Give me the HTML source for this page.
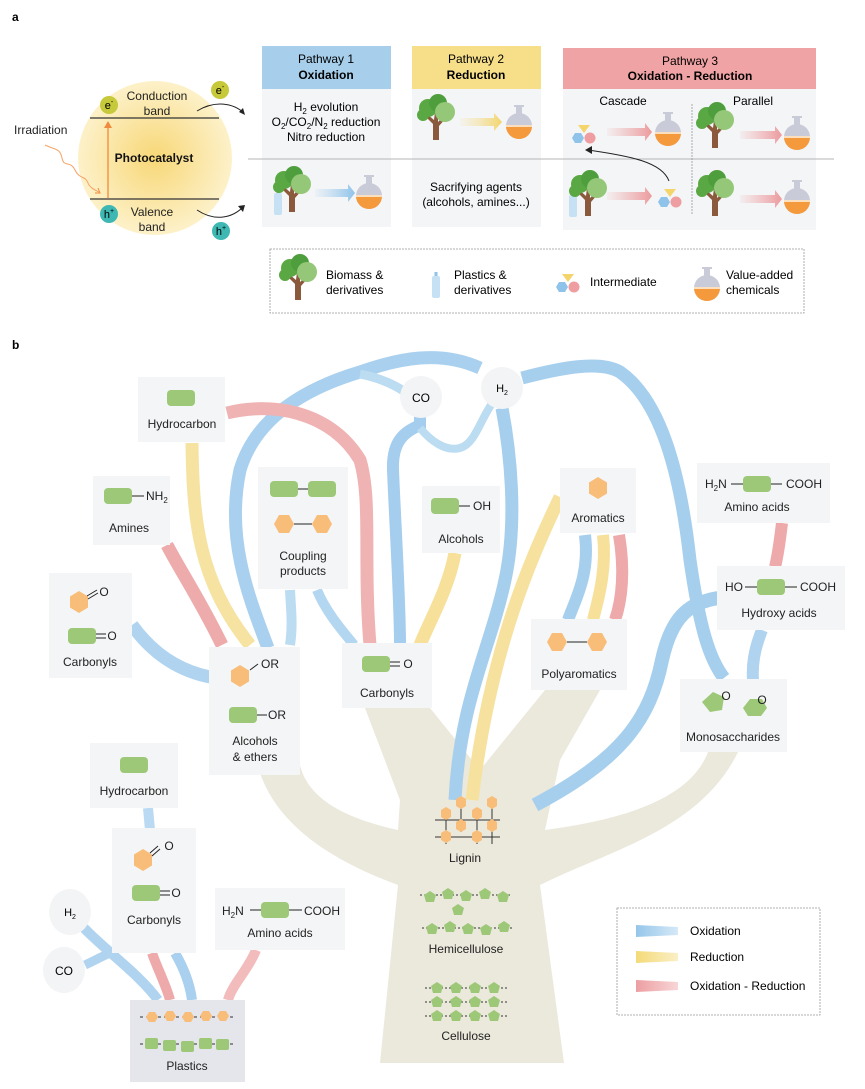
<!DOCTYPE html>
<html><head><meta charset="utf-8"><style>
html,body{margin:0;padding:0;background:#fff}
svg{display:block;font-family:"Liberation Sans",Arial,sans-serif}
</style></head><body>
<svg width="865" height="1089" viewBox="0 0 865 1089" xmlns="http://www.w3.org/2000/svg">
<defs>
<radialGradient id="sun" cx="0.5" cy="0.5" r="0.5">
<stop offset="0" stop-color="#f7d777"/><stop offset="1" stop-color="#fdf1c9"/></radialGradient>
<linearGradient id="gb" x1="0" x2="1"><stop offset="0" stop-color="#a8d0ee" stop-opacity="0.1"/><stop offset="1" stop-color="#8fc3ea"/></linearGradient>
<linearGradient id="gy" x1="0" x2="1"><stop offset="0" stop-color="#f6e09a" stop-opacity="0.1"/><stop offset="1" stop-color="#f3d56c"/></linearGradient>
<linearGradient id="gp" x1="0" x2="1"><stop offset="0" stop-color="#eea9ab" stop-opacity="0.1"/><stop offset="1" stop-color="#ec9a9d"/></linearGradient>
<linearGradient id="lb" x1="0" x2="1"><stop offset="0" stop-color="#94c6ea"/><stop offset="1" stop-color="#d6e9f7"/></linearGradient>
<linearGradient id="ly" x1="0" x2="1"><stop offset="0" stop-color="#f4da78"/><stop offset="1" stop-color="#faefc6"/></linearGradient>
<linearGradient id="lp" x1="0" x2="1"><stop offset="0" stop-color="#ec9ea1"/><stop offset="1" stop-color="#f8d6d7"/></linearGradient>
<g id="tree">
<path d="M-3,20 L-3,4 L-11,-4 L-9,-6 L-2,0 L-1,-8 L2,-8 L2,2 L8,-4 L10,-2 L3,6 L3,20 Z" fill="#8b5a3c"/>
<circle cx="-8" cy="-12" r="9" fill="#5aa844"/><circle cx="2" cy="-17" r="9" fill="#4f9e3d"/>
<circle cx="-13" cy="-5" r="6" fill="#5aa844"/><circle cx="9" cy="-8" r="10" fill="#94c878"/>
</g>
<g id="flask">
<rect x="-3" y="-20" width="6" height="9" fill="#c9cbd8"/><rect x="-5" y="-21" width="10" height="2" fill="#c9cbd8"/>
<circle cx="0" cy="0" r="13" fill="#c9cbd8"/>
<path d="M-13,0 A13,13 0 0 0 13,0 Z" fill="#f59a3c"/><rect x="-13" y="-1" width="26" height="2" fill="#fbe0c0"/>
</g>
<g id="bottle"><rect x="-4" y="-8" width="8" height="22" rx="2" fill="#c6e1f4"/><rect x="-1.5" y="-12" width="3" height="4" fill="#8fc3ea"/></g>
<g id="inter"><path d="M-6,-13 L6,-13 L0,-5 Z" fill="#f3d56c"/><polygon points="-12,0 -9,-5 -3,-5 0,0 -3,5 -9,5" fill="#8fc3ea"/><circle cx="6" cy="0" r="5.5" fill="#ee9ea1"/></g>
<polygon id="hex" points="-10,0 -5,-9 5,-9 10,0 5,9 -5,9" fill="#f8bd78"/>
<polygon id="vhex" points="0,-11 9,-5.5 9,5.5 0,11 -9,5.5 -9,-5.5" fill="#f8bd78"/>
<rect id="rr" x="-14" y="-8" width="28" height="16" rx="4" fill="#9dc878"/>
<polygon id="pent" points="0,-6 6,-2 4,5 -4,5 -6,-2" fill="#9dc878"/>
</defs>

<!-- ===== Panel a ===== -->
<text x="12" y="21" font-size="12" font-weight="bold">a</text>
<circle cx="155" cy="158" r="77" fill="url(#sun)"/>
<line x1="90" y1="118" x2="219" y2="118" stroke="#333" stroke-width="1.3"/>
<line x1="90" y1="199" x2="219" y2="199" stroke="#333" stroke-width="1.3"/>
<line x1="108" y1="198" x2="108" y2="126" stroke="#f08a3c" stroke-width="1.3"/>
<path d="M104,128 L108,121 L112,128 Z" fill="#f08a3c"/>
<path d="M45,145 C55,150 60,148 62,158 C64,168 70,160 75,170 C80,180 85,175 88,183 C90,188 95,190 99,192" fill="none" stroke="#f5a466" stroke-width="1"/>
<path d="M95,193 L100,193 L98,188" fill="none" stroke="#f08a3c" stroke-width="1"/>
<text x="14" y="134" font-size="12" fill="#222">Irradiation</text>
<text x="157" y="100" font-size="12" text-anchor="middle" fill="#222">Conduction</text>
<text x="157" y="115" font-size="12" text-anchor="middle" fill="#222">band</text>
<text x="154" y="162" font-size="12" font-weight="bold" text-anchor="middle" fill="#111">Photocatalyst</text>
<text x="152" y="216" font-size="12" text-anchor="middle" fill="#222">Valence</text>
<text x="152" y="231" font-size="12" text-anchor="middle" fill="#222">band</text>
<circle cx="109" cy="105" r="9" fill="#c5c93a"/><text x="109" y="109" font-size="11" text-anchor="middle">e<tspan font-size="7" dy="-5">-</tspan></text>
<circle cx="220" cy="90" r="9" fill="#c5c93a"/><text x="220" y="94" font-size="11" text-anchor="middle">e<tspan font-size="7" dy="-5">-</tspan></text>
<circle cx="109" cy="214" r="9" fill="#3fb8b4"/><text x="109" y="218" font-size="11" text-anchor="middle">h<tspan font-size="7" dy="-5">+</tspan></text>
<circle cx="221" cy="231" r="9" fill="#3fb8b4"/><text x="221" y="235" font-size="11" text-anchor="middle">h<tspan font-size="7" dy="-5">+</tspan></text>
<path d="M197,111 C215,100 233,103 244,113" fill="none" stroke="#222" stroke-width="1"/>
<path d="M239,112 L245,115 L243,108 Z" fill="#222"/>
<path d="M197,210 C215,222 233,218 244,206" fill="none" stroke="#222" stroke-width="1"/>
<path d="M238,206 L245,205 L243,212 Z" fill="#222"/>

<rect x="262" y="89" width="129" height="138" fill="#f4f5f7"/>
<rect x="262" y="46" width="129" height="43" fill="#a7cfec"/>
<text x="326" y="63" font-size="12" text-anchor="middle">Pathway 1</text>
<text x="326" y="79" font-size="12" font-weight="bold" text-anchor="middle">Oxidation</text>
<rect x="412" y="89" width="129" height="138" fill="#f4f5f7"/>
<rect x="412" y="46" width="129" height="43" fill="#f7df8a"/>
<text x="476" y="63" font-size="12" text-anchor="middle">Pathway 2</text>
<text x="476" y="79" font-size="12" font-weight="bold" text-anchor="middle">Reduction</text>
<rect x="563" y="89" width="253" height="141" fill="#f4f5f7"/>
<rect x="563" y="48" width="253" height="41" fill="#f0a3a5"/>
<text x="690" y="65" font-size="12" text-anchor="middle">Pathway 3</text>
<text x="690" y="80" font-size="12" font-weight="bold" text-anchor="middle">Oxidation - Reduction</text>
<line x1="248" y1="159" x2="834" y2="159" stroke="#b5b5b5" stroke-width="1"/>
<line x1="692" y1="104" x2="692" y2="215" stroke="#999" stroke-width="0.8" stroke-dasharray="2,1"/>

<text x="326" y="111" font-size="12" text-anchor="middle">H<tspan font-size="8" dy="3">2</tspan><tspan dy="-3"> evolution</tspan></text>
<text x="326" y="126" font-size="12" text-anchor="middle">O<tspan font-size="8" dy="3">2</tspan><tspan dy="-3">/CO</tspan><tspan font-size="8" dy="3">2</tspan><tspan dy="-3">/N</tspan><tspan font-size="8" dy="3">2</tspan><tspan dy="-3"> reduction</tspan></text>
<text x="326" y="141" font-size="12" text-anchor="middle">Nitro reduction</text>
<use href="#bottle" x="278" y="201"/>
<use href="#tree" x="292" y="192"/>
<path d="M315,189 L348,189 L348,184 L355,193 L348,202 L348,197 L315,197 Z" fill="url(#gb)"/>
<use href="#flask" x="369" y="196"/>

<use href="#tree" x="436" y="120"/>
<path d="M460,118 L494,118 L494,113 L502,122 L494,131 L494,126 L460,126 Z" fill="url(#gy)"/>
<use href="#flask" x="519" y="126"/>
<text x="476" y="191" font-size="12" text-anchor="middle">Sacrifying agents</text>
<text x="476" y="206" font-size="12" text-anchor="middle">(alcohols, amines...)</text>

<text x="623" y="105" font-size="12" text-anchor="middle">Cascade</text>
<text x="753" y="105" font-size="12" text-anchor="middle">Parallel</text>
<use href="#inter" x="584" y="138"/>
<path d="M607,128 L645,128 L645,123 L652,132 L645,141 L645,136 L607,136 Z" fill="url(#gp)"/>
<use href="#flask" x="668" y="133"/>
<use href="#tree" x="715" y="128"/>
<path d="M740,131 L775,131 L775,126 L782,135 L775,144 L775,139 L740,139 Z" fill="url(#gp)"/>
<use href="#flask" x="797" y="137"/>
<use href="#bottle" x="573" y="203"/>
<use href="#tree" x="588" y="196"/>
<path d="M607,192 L645,192 L645,187 L652,196 L645,205 L645,200 L607,200 Z" fill="url(#gp)"/>
<use href="#inter" x="670" y="202"/>
<use href="#tree" x="715" y="196"/>
<path d="M740,195 L775,195 L775,190 L782,199 L775,208 L775,203 L740,203 Z" fill="url(#gp)"/>
<use href="#flask" x="797" y="201"/>
<path d="M669,181 C662,162 630,156 588,150" fill="none" stroke="#222" stroke-width="1"/>
<path d="M585,150 L592,146 L592,154 Z" fill="#222"/>

<rect x="270" y="249" width="534" height="64" fill="none" stroke="#999" stroke-width="0.8" stroke-dasharray="2,1"/>
<use href="#tree" x="298" y="280"/>
<text x="326" y="279" font-size="12">Biomass &amp;</text>
<text x="326" y="294" font-size="12">derivatives</text>
<use href="#bottle" x="436" y="284"/>
<text x="454" y="279" font-size="12">Plastics &amp;</text>
<text x="454" y="294" font-size="12">derivatives</text>
<use href="#inter" x="568" y="287"/>
<text x="590" y="286" font-size="12">Intermediate</text>
<use href="#flask" x="707" y="288"/>
<text x="726" y="279" font-size="12">Value-added</text>
<text x="726" y="294" font-size="12">chemicals</text>

<!-- ===== Panel b ===== -->
<text x="12" y="349" font-size="12" font-weight="bold">b</text>

<g fill="#ebe8dc" stroke="none">
<path d="M380,1063 L564,1063 L540,885 C610,850 700,830 738,752 L708,752 C690,800 620,820 545,830 L560,760 L600,690 L545,690 L480,770 L430,708 L365,708 L400,800 L398,830 C330,815 300,790 298,752 L255,752 C265,820 330,860 398,885 Z"/>
</g>

<g fill="none" stroke-linecap="butt">
<path d="M268,648 C250,600 225,540 240,470 C255,420 300,390 360,372 C400,358 440,350 480,368" stroke="#a9d0ee" stroke-width="13"/>
<path d="M360,374 C380,378 395,385 405,392" stroke="#bcdcf2" stroke-width="9"/>
<path d="M420,412 L420,425 C405,432 392,440 393,470 C395,520 400,600 400,645" stroke="#a4cdee" stroke-width="12"/>
<path d="M420,428 C430,440 445,452 460,448 C475,444 480,420 493,402" stroke="#bcdcf2" stroke-width="8"/>
<path d="M522,378 C560,368 600,360 620,372 C660,400 680,470 690,560 C700,630 710,660 724,678" stroke="#a6cfee" stroke-width="13"/>
<path d="M502,408 C510,450 518,520 505,580 C490,650 460,700 455,800" stroke="#a6cfee" stroke-width="13"/>
<path d="M718,598 C690,603 672,615 662,660 C650,720 620,760 535,805" stroke="#a6cfee" stroke-width="14"/>
<path d="M227,413 C270,402 330,410 360,460 C372,500 363,560 370,645" stroke="#f0b3b4" stroke-width="13"/>
<path d="M192,443 C193,520 198,580 250,645" stroke="#f6e3a2" stroke-width="13"/>
<path d="M167,545 C180,570 200,600 222,645" stroke="#eeabac" stroke-width="13"/>
<path d="M132,625 C150,650 175,670 210,677" stroke="#b0d4f0" stroke-width="13"/>
<path d="M290,590 C291,610 293,625 290,645" stroke="#bcdcf2" stroke-width="10"/>
<path d="M317,590 C325,610 340,628 354,645" stroke="#b3d6f1" stroke-width="10"/>
<path d="M455,553 C448,590 430,620 420,645" stroke="#f6e09a" stroke-width="13"/>
<path d="M560,497 C530,560 490,650 472,800" stroke="#f6e29e" stroke-width="13"/>
<path d="M585,535 C590,575 575,600 568,620" stroke="#a6cfee" stroke-width="12"/>
<path d="M603,535 C607,570 598,600 593,620" stroke="#f6e09a" stroke-width="12"/>
<path d="M619,535 C625,570 622,600 615,620" stroke="#eeaaab" stroke-width="12"/>
<path d="M782,523 C780,540 778,555 775,567" stroke="#eeaaab" stroke-width="12"/>
<path d="M762,630 C754,650 752,665 753,680" stroke="#b0d4f0" stroke-width="12"/>
<path d="M148,808 L150,830" stroke="#b9daf2" stroke-width="10"/>
<path d="M152,953 C158,970 166,985 170,1000" stroke="#eeaaab" stroke-width="10"/>
<path d="M175,953 C185,970 190,985 192,1000" stroke="#a9d0ee" stroke-width="10"/>
<path d="M256,950 C248,970 232,985 228,1000" stroke="#f2bbbc" stroke-width="10"/>
<path d="M84,928 C105,950 140,975 158,1000" stroke="#b0d4f0" stroke-width="10"/>
<path d="M85,965 C100,958 110,952 118,950" stroke="#b0d4f0" stroke-width="9"/>
</g>

<circle cx="421" cy="397" r="21" fill="#f3f4f6"/><text x="421" y="402" font-size="12" text-anchor="middle">CO</text>
<circle cx="502" cy="388" r="21" fill="#f3f4f6"/><text x="502" y="392" font-size="11" text-anchor="middle">H<tspan font-size="7" dy="3">2</tspan></text>
<ellipse cx="70" cy="912" rx="21" ry="23" fill="#f3f4f6"/><text x="70" y="916" font-size="11" text-anchor="middle">H<tspan font-size="7" dy="3">2</tspan></text>
<ellipse cx="64" cy="970" rx="21" ry="23" fill="#f3f4f6"/><text x="64" y="975" font-size="12" text-anchor="middle">CO</text>

<g fill="#f4f5f7">
<rect x="138" y="377" width="87" height="65"/>
<rect x="93" y="476" width="77" height="69"/>
<rect x="258" y="467" width="90" height="122"/>
<rect x="49" y="573" width="83" height="105"/>
<rect x="209" y="647" width="91" height="128"/>
<rect x="342" y="643" width="90" height="65"/>
<rect x="422" y="486" width="78" height="67"/>
<rect x="560" y="468" width="76" height="65"/>
<rect x="531" y="619" width="96" height="71"/>
<rect x="697" y="463" width="133" height="60"/>
<rect x="717" y="566" width="128" height="64"/>
<rect x="680" y="679" width="107" height="73"/>
<rect x="90" y="743" width="88" height="65"/>
<rect x="112" y="828" width="84" height="125"/>
<rect x="215" y="888" width="130" height="62"/>
</g>
<rect x="130" y="1000" width="115" height="82" fill="#e4e6ec"/>

<g font-size="12" fill="#222" text-anchor="middle">
<use href="#rr" x="181" y="398"/><text x="182" y="428">Hydrocarbon</text>
<use href="#rr" x="118" y="496"/><line x1="132" y1="496" x2="144" y2="496" stroke="#222"/><text x="146" y="500" text-anchor="start">NH<tspan font-size="8" dy="3">2</tspan></text><text x="129" y="532">Amines</text>
<use href="#rr" x="284" y="489"/><use href="#rr" x="322" y="489"/><line x1="298" y1="489" x2="308" y2="489" stroke="#222"/>
<use href="#hex" x="284" y="524"/><use href="#hex" x="322" y="524"/><line x1="294" y1="524" x2="312" y2="524" stroke="#222"/>
<text x="303" y="560">Coupling</text><text x="303" y="575">products</text>
<use href="#vhex" x="79" y="602"/><path d="M87,596 L97,590 M88,599 L98,593" stroke="#222"/><text x="104" y="596">O</text>
<use href="#rr" x="82" y="636"/><path d="M96,634 L106,634 M96,638 L106,638" stroke="#222"/><text x="112" y="640">O</text>
<text x="90" y="666">Carbonyls</text>
<use href="#vhex" x="240" y="676"/><path d="M250,670 L258,664" stroke="#222"/><text x="270" y="668">OR</text>
<use href="#rr" x="243" y="715"/><line x1="257" y1="715" x2="267" y2="715" stroke="#222"/><text x="277" y="719">OR</text>
<text x="255" y="745">Alcohols</text><text x="255" y="761">&amp; ethers</text>
<use href="#rr" x="376" y="664"/><path d="M390,662 L400,662 M390,666 L400,666" stroke="#222"/><text x="408" y="668">O</text>
<text x="387" y="697">Carbonyls</text>
<use href="#rr" x="445" y="506"/><line x1="459" y1="506" x2="470" y2="506" stroke="#222"/><text x="482" y="510">OH</text>
<text x="461" y="543">Alcohols</text>
<use href="#vhex" x="598" y="488"/><text x="598" y="522">Aromatics</text>
<use href="#hex" x="557" y="642"/><use href="#hex" x="597" y="642"/><line x1="567" y1="642" x2="587" y2="642" stroke="#222"/>
<text x="579" y="678">Polyaromatics</text>
<text x="705" y="488" text-anchor="start">H<tspan font-size="8" dy="3">2</tspan><tspan dy="-3">N</tspan></text><line x1="731" y1="484" x2="743" y2="484" stroke="#222"/>
<use href="#rr" x="757" y="484"/><line x1="771" y1="484" x2="782" y2="484" stroke="#222"/><text x="786" y="488" text-anchor="start">COOH</text>
<text x="757" y="511">Amino acids</text>
<text x="725" y="591" text-anchor="start">HO</text><line x1="745" y1="587" x2="758" y2="587" stroke="#222"/>
<use href="#rr" x="771" y="587"/><line x1="785" y1="587" x2="797" y2="587" stroke="#222"/><text x="800" y="591" text-anchor="start">COOH</text>
<text x="779" y="617">Hydroxy acids</text>
<polygon points="713,692 724,697 722,710 710,712 702,702" fill="#9dc878"/><text x="726" y="700">O</text>
<polygon points="750,699 762,699 767,708 761,716 748,716 743,708" fill="#9dc878"/><text x="762" y="704">O</text>
<text x="733" y="741">Monosaccharides</text>
<use href="#rr" x="134" y="765"/><text x="134" y="795">Hydrocarbon</text>
<use href="#vhex" x="143" y="860"/><path d="M150,853 L158,846 M152,856 L160,849" stroke="#222"/><text x="169" y="850">O</text>
<use href="#rr" x="146" y="893"/><path d="M160,891 L170,891 M160,895 L170,895" stroke="#222"/><text x="176" y="897">O</text>
<text x="154" y="924">Carbonyls</text>
<text x="222" y="915" text-anchor="start">H<tspan font-size="8" dy="3">2</tspan><tspan dy="-3">N</tspan></text><line x1="250" y1="910" x2="262" y2="910" stroke="#222"/>
<use href="#rr" x="275" y="910"/><line x1="289" y1="910" x2="302" y2="910" stroke="#222"/><text x="304" y="915" text-anchor="start">COOH</text>
<text x="280" y="937">Amino acids</text>
<text x="187" y="1070">Plastics</text>
<text x="465" y="862">Lignin</text>
<text x="466" y="953">Hemicellulose</text>
<text x="466" y="1040">Cellulose</text>
</g>

<line x1="140" y1="1017" x2="234" y2="1017" stroke="#333" stroke-dasharray="3,3"/>
<g fill="#f8bd78">
<polygon points="146,1017 149,1012 155,1012 158,1017 155,1022 149,1022"/>
<polygon points="164,1016 167,1011 173,1011 176,1016 173,1021 167,1021"/>
<polygon points="182,1017 185,1012 191,1012 194,1017 191,1022 185,1022"/>
<polygon points="200,1016 203,1011 209,1011 212,1016 209,1021 203,1021"/>
<polygon points="217,1016 220,1011 226,1011 229,1016 226,1021 220,1021"/>
</g>
<line x1="140" y1="1044" x2="234" y2="1044" stroke="#333" stroke-dasharray="3,3"/>
<g fill="#9dc878">
<rect x="145" y="1038" width="13" height="11" rx="2"/><rect x="163" y="1040" width="13" height="11" rx="2"/>
<rect x="181" y="1041" width="13" height="11" rx="2"/><rect x="199" y="1038" width="13" height="11" rx="2"/><rect x="216" y="1039" width="13" height="11" rx="2"/>
</g>

<!-- lignin -->
<g transform="translate(0,-6)">
<g stroke="#333" stroke-width="1">
<line x1="446" y1="820" x2="446" y2="850"/><line x1="461" y1="808" x2="461" y2="838"/><line x1="477" y1="820" x2="477" y2="850"/><line x1="492" y1="805" x2="492" y2="850"/>
<line x1="435" y1="843" x2="500" y2="843"/><line x1="435" y1="826" x2="500" y2="826"/>
</g>
<g fill="#f8bd78">
<polygon points="461,802 466,805 466,812 461,815 456,812 456,805"/>
<polygon points="492,802 497,805 497,812 492,815 487,812 487,805"/>
<polygon points="446,813 451,816 451,823 446,826 441,823 441,816"/>
<polygon points="477,813 482,816 482,823 477,826 472,823 472,816"/>
<polygon points="461,825 466,828 466,835 461,838 456,835 456,828"/>
<polygon points="492,825 497,828 497,835 492,838 487,835 487,828"/>
<polygon points="446,836 451,839 451,846 446,849 441,846 441,839"/>
<polygon points="477,836 482,839 482,846 477,849 472,846 472,839"/>
</g>
</g>

<g stroke="#333" stroke-dasharray="2,2"><line x1="420" y1="895" x2="512" y2="895"/><line x1="422" y1="928" x2="512" y2="928"/></g>
<g>
<use href="#pent" x="430" y="897"/><use href="#pent" x="448" y="894"/><use href="#pent" x="466" y="896"/><use href="#pent" x="485" y="894"/><use href="#pent" x="503" y="897"/>
<use href="#pent" x="458" y="910"/>
<use href="#pent" x="432" y="929"/><use href="#pent" x="450" y="927"/><use href="#pent" x="468" y="929"/><use href="#pent" x="486" y="930"/><use href="#pent" x="504" y="927"/>
</g>
<g stroke="#333" stroke-dasharray="2,2"><line x1="425" y1="988" x2="508" y2="988"/><line x1="425" y1="1002" x2="508" y2="1002"/><line x1="425" y1="1016" x2="508" y2="1016"/></g>
<g>
<use href="#pent" x="437" y="988"/><use href="#pent" x="456" y="988"/><use href="#pent" x="475" y="988"/><use href="#pent" x="494" y="988"/>
<use href="#pent" x="437" y="1002"/><use href="#pent" x="456" y="1002"/><use href="#pent" x="475" y="1002"/><use href="#pent" x="494" y="1002"/>
<use href="#pent" x="437" y="1016"/><use href="#pent" x="456" y="1016"/><use href="#pent" x="475" y="1016"/><use href="#pent" x="494" y="1016"/>
</g>

<rect x="617" y="908" width="203" height="107" fill="none" stroke="#999" stroke-width="0.8" stroke-dasharray="2,1"/>
<path d="M636,925 L678,927 L678,935 L636,937 Z" fill="url(#lb)"/>
<path d="M636,951 L678,953 L678,961 L636,963 Z" fill="url(#ly)"/>
<path d="M636,980 L678,982 L678,990 L636,992 Z" fill="url(#lp)"/>
<text x="690" y="935" font-size="12">Oxidation</text>
<text x="690" y="961" font-size="12">Reduction</text>
<text x="690" y="990" font-size="12">Oxidation - Reduction</text>
</svg>
</body></html>
